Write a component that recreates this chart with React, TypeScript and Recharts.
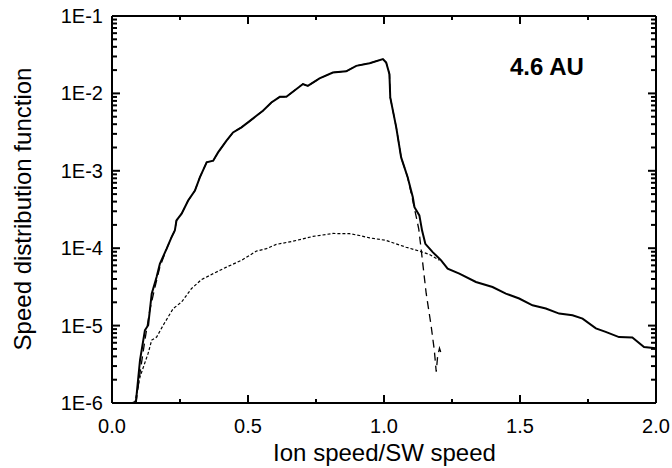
import React from 'react';
import { LineChart, Line, XAxis, YAxis, Customized } from 'recharts';

const FONT = '"Liberation Sans", Arial, Helvetica, sans-serif';

// Solid curve (total distribution)
const solidX = [0.076, 0.088, 0.103, 0.121, 0.133, 0.146, 0.164, 0.176, 0.201, 0.219, 0.231, 0.237, 0.256, 0.280, 0.305, 0.323, 0.348, 0.372, 0.390, 0.421, 0.445, 0.476, 0.500, 0.531, 0.555, 0.586, 0.617, 0.641, 0.665, 0.702, 0.720, 0.763, 0.812, 0.861, 0.898, 0.947, 0.996, 1.008, 1.020, 1.023, 1.045, 1.063, 1.087, 1.106, 1.112, 1.130, 1.140, 1.152, 1.179, 1.210, 1.234, 1.277, 1.338, 1.399, 1.448, 1.497, 1.546, 1.595, 1.644, 1.693, 1.730, 1.779, 1.815, 1.864, 1.913, 1.956, 1.999];
const solidY = [1.0e-6, 1.04e-6, 3.58e-6, 8.7e-6, 1.01e-5, 2.59e-5, 4.25e-5, 6.3e-5, 9.86e-5, 1.39e-4, 1.69e-4, 2.28e-4, 2.79e-4, 4.13e-4, 5.56e-4, 8.24e-4, 1.29e-3, 1.35e-3, 1.73e-3, 2.45e-3, 3.13e-3, 3.64e-3, 4.22e-3, 5.14e-3, 5.97e-3, 7.64e-3, 9.03e-3, 9.03e-3, 1.05e-2, 1.32e-2, 1.25e-2, 1.56e-2, 1.86e-2, 1.93e-2, 2.27e-2, 2.45e-2, 2.77e-2, 2.50e-2, 1.77e-2, 8.85e-3, 3.64e-3, 1.49e-3, 8.24e-4, 4.55e-4, 3.39e-4, 2.65e-4, 1.69e-4, 1.14e-4, 8.9e-5, 6.97e-5, 5.44e-5, 4.69e-5, 3.66e-5, 3.15e-5, 2.59e-5, 2.24e-5, 1.83e-5, 1.66e-5, 1.43e-5, 1.36e-5, 1.23e-5, 9.2e-6, 8.3e-6, 7.1e-6, 7.0e-6, 5.3e-6, 5.1e-6];

// Dashed curve: low-speed start, then follows solid, then its own tail
const dashedLowX = [0.088, 0.103, 0.121, 0.139, 0.158, 0.176, 0.201];
const dashedLowY = [1.0e-6, 2.44e-6, 6.5e-6, 1.58e-5, 3.15e-5, 5.7e-5, 9.86e-5];
const dashedTailX = [1.104, 1.118, 1.128, 1.137, 1.155, 1.173, 1.185, 1.192, 1.197, 1.204, 1.210];
const dashedTailY = [4.4e-4, 2.6e-4, 1.75e-4, 9.4e-5, 2.62e-5, 1.01e-5, 4.8e-6, 2.53e-6, 3.96e-6, 5.1e-6, 4.4e-6];

// Dotted curve
const dottedX = [0.084, 0.103, 0.133, 0.146, 0.164, 0.188, 0.225, 0.256, 0.292, 0.329, 0.372, 0.421, 0.476, 0.531, 0.568, 0.604, 0.665, 0.739, 0.812, 0.873, 0.910, 0.947, 1.008, 1.081, 1.130, 1.167, 1.204];
const dottedY = [1.0e-6, 2.18e-6, 4.4e-6, 6.5e-6, 7.1e-6, 1.01e-5, 1.66e-5, 2.02e-5, 3.0e-5, 3.93e-5, 4.69e-5, 5.7e-5, 6.97e-5, 9.18e-5, 9.86e-5, 1.12e-4, 1.23e-4, 1.42e-4, 1.55e-4, 1.54e-4, 1.46e-4, 1.36e-4, 1.26e-4, 1.03e-4, 9.18e-5, 8.3e-5, 6.97e-5];

// Ticks
const xMajorTicks = [0, 0.5, 1.0, 1.5, 2.0];
const xTickLabels = ['0.0', '0.5', '1.0', '1.5', '2.0'];
const xMinorTicks = [0.25, 0.75, 1.25, 1.75];
const yMajorTicks = [1e-6, 1e-5, 1e-4, 1e-3, 1e-2, 1e-1];
const yTickLabels = ['1E-6', '1E-5', '1E-4', '1E-3', '1E-2', '1E-1'];
const yMinorMultipliers = [2, 3, 4, 5, 6, 7, 8, 9];

const annotation = '4.6 AU';
const xTitle = 'Ion speed/SW speed';
const yTitle = 'Speed distribution function';

const solidData = solidX.map((x, i) => ({ x, y: solidY[i] }));
const dashedData = [
  ...dashedLowX.map((x, i) => ({ x, y: dashedLowY[i] })),
  ...solidData.filter((p) => p.x >= 0.21 && p.x <= 1.09),
  ...dashedTailX.map((x, i) => ({ x, y: dashedTailY[i] })),
];
const dottedData = dottedX.map((x, i) => ({ x, y: dottedY[i] }));

const xAllTicks = [...xMajorTicks, ...xMinorTicks].sort((a, b) => a - b);
const yMinorTicks: number[] = [];
yMajorTicks.slice(0, -1).forEach((d) => yMinorMultipliers.forEach((m) => yMinorTicks.push(d * m)));
const yAllTicks = [...yMajorTicks, ...yMinorTicks].sort((a, b) => a - b);

const xMajorIndex = (v: number) => xMajorTicks.findIndex((t) => Math.abs(t - v) < 1e-9);
const yMajorIndex = (v: number) => yMajorTicks.findIndex((t) => Math.abs(Math.log10(t) - Math.log10(v)) < 1e-6);

const num = (v: any) => Number(v);

const XTickBottom = (props: any) => {
  const x = num(props.x);
  const y = num(props.y);
  const idx = xMajorIndex(props.payload.value);
  const major = idx >= 0;
  const len = major ? 8 : 4;
  return (
    <g>
      <path d={`M${x},${y}L${x},${y - len}`} stroke="#000" strokeWidth={2} fill="none" />
      {major && (
        <text x={x} y={y + 30} textAnchor="middle" fontSize={20} fontFamily={FONT} fill="#000" stroke="none">
          {xTickLabels[idx]}
        </text>
      )}
    </g>
  );
};

const XTickTop = (props: any) => {
  const x = num(props.x);
  const y = num(props.y);
  const major = xMajorIndex(props.payload.value) >= 0;
  const len = major ? 8 : 4;
  return <path d={`M${x},${y}L${x},${y + len}`} stroke="#000" strokeWidth={2} fill="none" />;
};

const YTickLeft = (props: any) => {
  const x = num(props.x);
  const y = num(props.y);
  const idx = yMajorIndex(props.payload.value);
  const major = idx >= 0;
  const len = major ? 8 : 5;
  return (
    <g>
      <path d={`M${x},${y}L${x + len},${y}`} stroke="#000" strokeWidth={2} fill="none" />
      {major && (
        <text x={x - 9} y={y + 7} textAnchor="end" fontSize={20} fontFamily={FONT} fill="#000" stroke="none">
          {yTickLabels[idx]}
        </text>
      )}
    </g>
  );
};

const YTickRight = (props: any) => {
  const x = num(props.x);
  const y = num(props.y);
  const major = yMajorIndex(props.payload.value) >= 0;
  const len = major ? 8 : 5;
  return <path d={`M${x},${y}L${x - len},${y}`} stroke="#000" strokeWidth={2} fill="none" />;
};

const Titles = () => (
  <g>
    <text x={510} y={75} fontSize={24} fontWeight="bold" fontFamily={FONT} fill="#000">
      {annotation}
    </text>
    <text x={384.5} y={461} textAnchor="middle" fontSize={24} fontFamily={FONT} fill="#000">
      {xTitle}
    </text>
    <text x={31} y={209} textAnchor="middle" fontSize={24} fontFamily={FONT} fill="#000" transform="rotate(-90 31 209)">
      {yTitle}
    </text>
  </g>
);

const axisLine = { stroke: '#000', strokeWidth: 2 };

export default function App() {
  return (
    <div style={{ position: 'absolute', left: 0, top: 0, width: 672, height: 468, background: '#fff' }}>
      <LineChart width={672} height={468} margin={{ top: 15, right: 15, bottom: 0, left: 0 }}>
        <XAxis xAxisId="b" type="number" dataKey="x" domain={[0, 2]} allowDataOverflow ticks={xAllTicks} interval={0}
          tickSize={0} tickMargin={0} tickLine={false} tick={XTickBottom} axisLine={axisLine} height={65} orientation="bottom" />
        <XAxis xAxisId="t" type="number" dataKey="x" domain={[0, 2]} allowDataOverflow ticks={xAllTicks} interval={0}
          tickSize={0} tickMargin={0} tickLine={false} tick={XTickTop} axisLine={axisLine} height={1} orientation="top" />
        <YAxis yAxisId="l" type="number" scale="log" domain={[1e-6, 1e-1]} allowDataOverflow ticks={yAllTicks} interval={0}
          tickSize={0} tickMargin={0} tickLine={false} tick={YTickLeft} axisLine={axisLine} width={112} orientation="left" />
        <YAxis yAxisId="r" type="number" scale="log" domain={[1e-6, 1e-1]} allowDataOverflow ticks={yAllTicks} interval={0}
          tickSize={0} tickMargin={0} tickLine={false} tick={YTickRight} axisLine={axisLine} width={1} orientation="right" />
        <Line xAxisId="t" yAxisId="r" data={solidData} dataKey="y" type="linear" stroke="none" strokeWidth={0}
          dot={false} activeDot={false} isAnimationActive={false} />
        <Line xAxisId="b" yAxisId="l" data={dottedData} dataKey="y" type="linear" stroke="#000" strokeWidth={1.2}
          strokeDasharray="3 2" dot={false} activeDot={false} isAnimationActive={false} />
        <Line xAxisId="b" yAxisId="l" data={dashedData} dataKey="y" type="linear" stroke="#000" strokeWidth={1.3}
          strokeDasharray="8 5" dot={false} activeDot={false} isAnimationActive={false} />
        <Line xAxisId="b" yAxisId="l" data={solidData} dataKey="y" type="linear" stroke="#000" strokeWidth={2}
          dot={false} activeDot={false} isAnimationActive={false} />
        <Customized component={Titles} />
      </LineChart>
    </div>
  );
}
